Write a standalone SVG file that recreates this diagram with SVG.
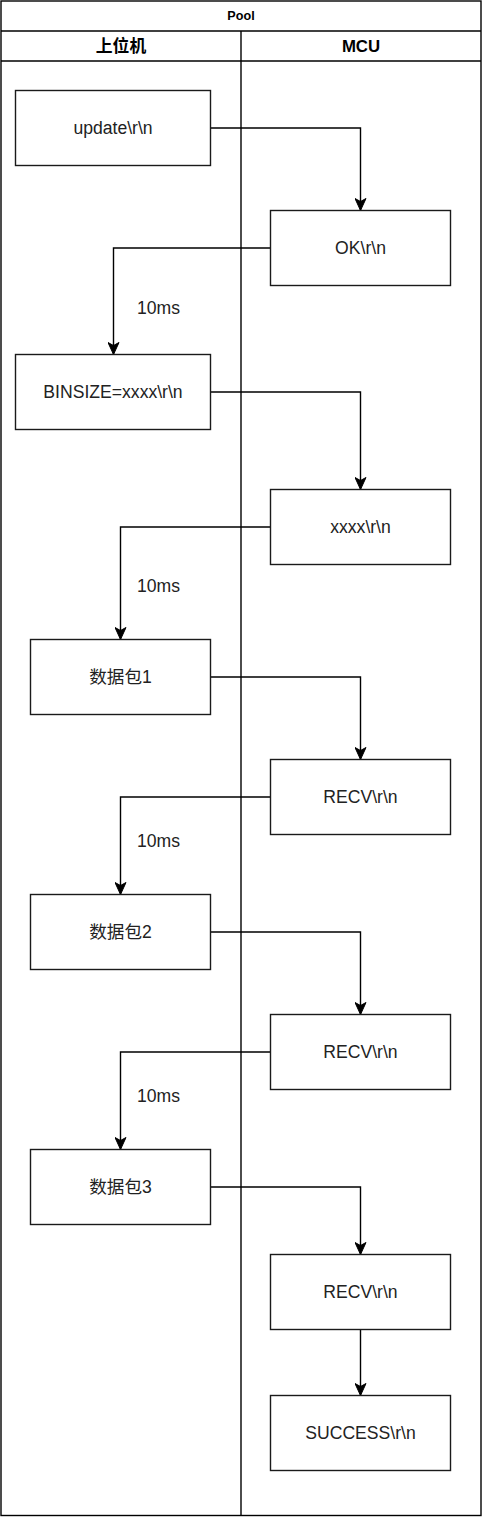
<svg xmlns="http://www.w3.org/2000/svg" width="483" height="1518" viewBox="0 0 483 1518">
<style>
.frame{fill:none;stroke:#000;stroke-width:1.4}
.node rect{fill:#fff;stroke:#1a1a1a;stroke-width:1.4}
.node text,.lbl{font-family:"Liberation Sans","Noto Sans CJK SC",sans-serif;font-size:17.6px;fill:#222;text-anchor:middle;dominant-baseline:central}
.hdr{font-family:"Liberation Sans","Noto Sans CJK SC",sans-serif;font-weight:bold;fill:#000;text-anchor:middle;dominant-baseline:central}
.edge{fill:none;stroke:#000;stroke-width:1.4;marker-end:url(#arr)}
</style>
<defs>
<marker id="arr" markerUnits="userSpaceOnUse" markerWidth="14" markerHeight="12" viewBox="0 0 13 12" refX="12.5" refY="6" orient="auto">
<path d="M0.5,0.5 L12.5,6 L0.5,11.5 L3.5,6 Z" fill="#000" stroke="#000" stroke-width="1"/>
</marker>
</defs>
<rect width="483" height="1518" fill="#fff"/>
<g id="pool">
<rect class="frame" x="1" y="1" width="480" height="1514.5"/>
<line class="frame" x1="1" y1="31" x2="481" y2="31"/>
<line class="frame" x1="1" y1="61" x2="481" y2="61"/>
<line class="frame" x1="241" y1="31" x2="241" y2="1515.5"/>
<text class="hdr" x="241" y="16" font-size="12.6">Pool</text>
<text class="hdr" x="121" y="46" font-size="16.8">上位机</text>
<text class="hdr" x="361" y="46" font-size="16.8">MCU</text>
</g>
<g id="connectors">
<polyline class="edge" points="210.5,128 360.5,128 360.5,210.5"/>
<polyline class="edge" points="270.5,248 113.5,248 113.5,354.5"/>
<polyline class="edge" points="210.5,392 360.5,392 360.5,489.5"/>
<polyline class="edge" points="270.5,527 120.5,527 120.5,639.5"/>
<polyline class="edge" points="210.5,677 360.5,677 360.5,759.5"/>
<polyline class="edge" points="270.5,797 120.5,797 120.5,894.5"/>
<polyline class="edge" points="210.5,932 360.5,932 360.5,1014.5"/>
<polyline class="edge" points="270.5,1052 120.5,1052 120.5,1149.5"/>
<polyline class="edge" points="210.5,1187 360.5,1187 360.5,1254.5"/>
<polyline class="edge" points="360.5,1329.5 360.5,1395.5"/>
<text class="lbl" x="158.5" y="308">10ms</text>
<text class="lbl" x="158.5" y="586">10ms</text>
<text class="lbl" x="158.5" y="841">10ms</text>
<text class="lbl" x="158.5" y="1096">10ms</text>
</g>
<g id="n-update" class="node"><rect x="15.5" y="90.5" width="195" height="75"/><text x="113" y="128">update\r\n</text></g>
<g id="n-ok" class="node"><rect x="270.5" y="210.5" width="180" height="75"/><text x="360.5" y="248">OK\r\n</text></g>
<g id="n-binsize" class="node"><rect x="15.5" y="354.5" width="195" height="75"/><text x="113" y="392">BINSIZE=xxxx\r\n</text></g>
<g id="n-xxxx" class="node"><rect x="270.5" y="489.5" width="180" height="75"/><text x="360.5" y="527">xxxx\r\n</text></g>
<g id="n-pkt1" class="node"><rect x="30.5" y="639.5" width="180" height="75"/><text x="120.5" y="677">数据包1</text></g>
<g id="n-recv1" class="node"><rect x="270.5" y="759.5" width="180" height="75"/><text x="360.5" y="797">RECV\r\n</text></g>
<g id="n-pkt2" class="node"><rect x="30.5" y="894.5" width="180" height="75"/><text x="120.5" y="932">数据包2</text></g>
<g id="n-recv2" class="node"><rect x="270.5" y="1014.5" width="180" height="75"/><text x="360.5" y="1052">RECV\r\n</text></g>
<g id="n-pkt3" class="node"><rect x="30.5" y="1149.5" width="180" height="75"/><text x="120.5" y="1187">数据包3</text></g>
<g id="n-recv3" class="node"><rect x="270.5" y="1254.5" width="180" height="75"/><text x="360.5" y="1292">RECV\r\n</text></g>
<g id="n-success" class="node"><rect x="270.5" y="1395.5" width="180" height="75"/><text x="360.5" y="1433">SUCCESS\r\n</text></g>
</svg>
